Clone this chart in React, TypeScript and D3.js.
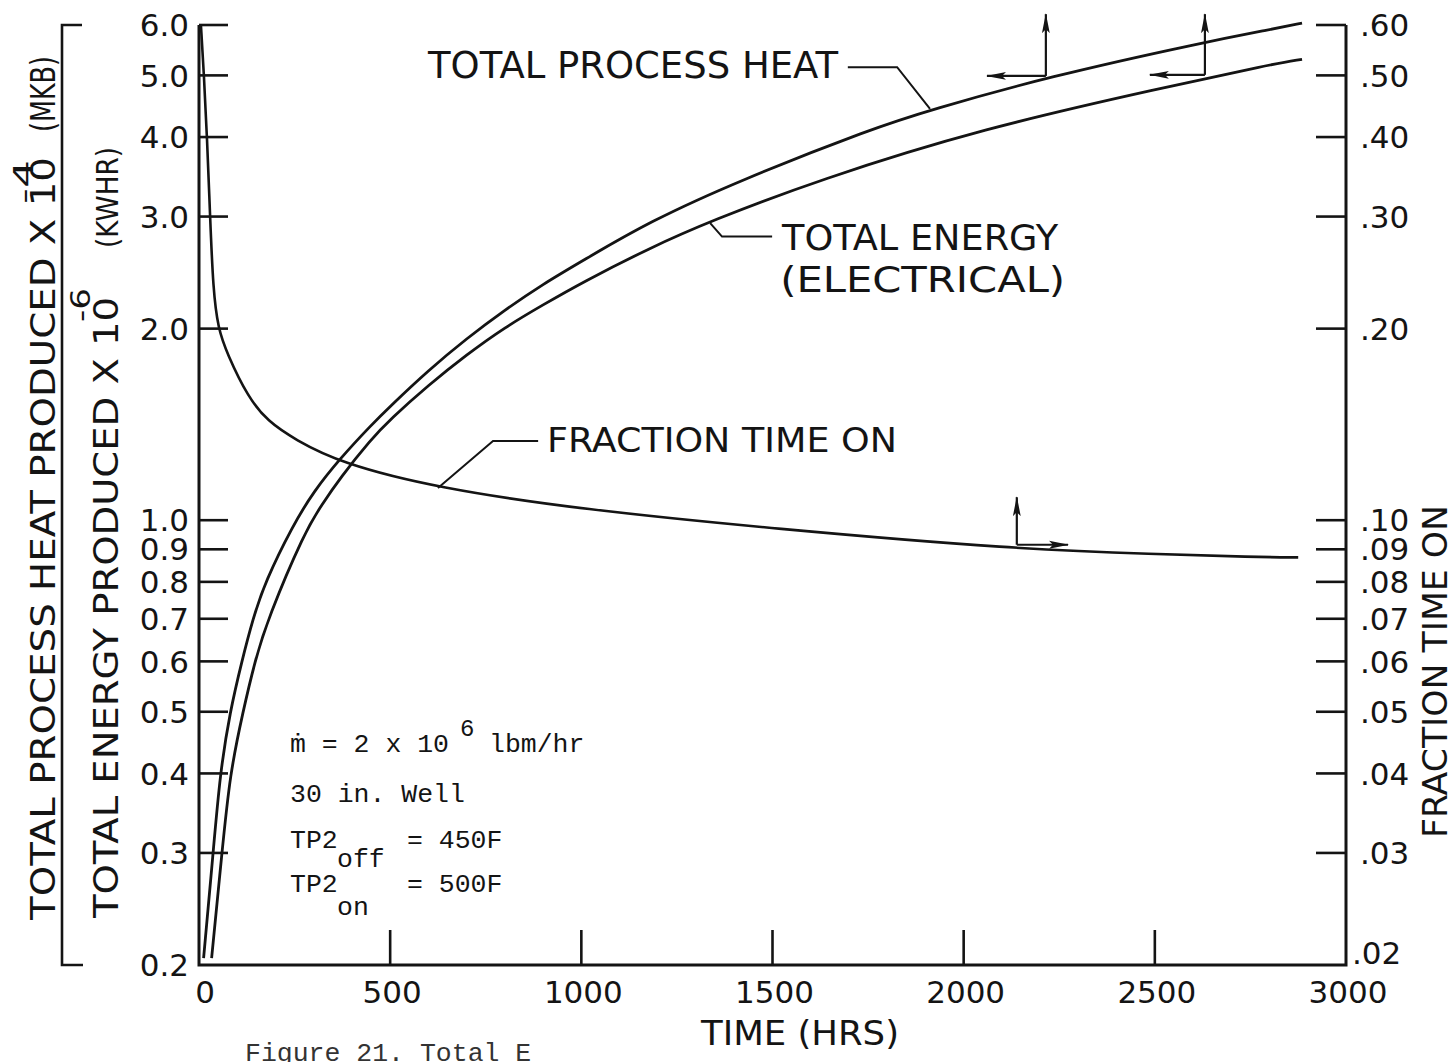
import React, { useEffect } from "react";
import * as d3 from "d3";

const W = 1455;
const H = 1062;
const ink = "#141414";

// Total process heat (x 10^-4 MKB), left scale
const heatHours = [12, 37, 55, 81, 112, 141, 173, 245, 300, 369, 450, 500, 600, 700, 800, 900, 1000, 1180, 1415, 1763, 1912, 2218, 2631, 2801, 2885];
const heatValues = [0.205, 0.3, 0.4, 0.5, 0.6, 0.7, 0.8, 0.98, 1.11, 1.25, 1.41, 1.51, 1.72, 1.93, 2.14, 2.35, 2.55, 2.95, 3.42, 4.13, 4.41, 4.97, 5.64, 5.9, 6.04];

// Total electrical energy (x 10^-6 KWHR), left scale
const energyHours = [33, 60, 81, 115, 146, 180, 277, 320, 369, 450, 500, 600, 700, 800, 900, 1000, 1180, 1337, 1617, 2051, 2521, 2801, 2885];
const energyValues = [0.205, 0.3, 0.4, 0.5, 0.6, 0.7, 0.96, 1.055, 1.165, 1.34, 1.44, 1.63, 1.82, 2.01, 2.18, 2.36, 2.68, 2.95, 3.42, 4.13, 4.78, 5.2, 5.3];

// Fraction of time the heater is on, right scale
const fractionHours = [5, 13, 21, 29, 37, 50, 73, 128, 180, 250, 369, 625, 1000, 1500, 2140, 2500, 2760, 2875];
const fractionValues = [0.6, 0.5, 0.4, 0.3, 0.23, 0.2, 0.183, 0.156, 0.143, 0.134, 0.123, 0.1123, 0.104, 0.097, 0.09, 0.0885, 0.0875, 0.0874];

const timeTicks = [0, 500, 1000, 1500, 2000, 2500, 3000];
const timeTickLabels = ["0", "500", "1000", "1500", "2000", "2500", "3000"];
const leftTicks = [0.2, 0.3, 0.4, 0.5, 0.6, 0.7, 0.8, 0.9, 1.0, 2.0, 3.0, 4.0, 5.0, 6.0];
const leftTickLabels = ["0.2", "0.3", "0.4", "0.5", "0.6", "0.7", "0.8", "0.9", "1.0", "2.0", "3.0", "4.0", "5.0", "6.0"];
const rightTicks = [0.02, 0.03, 0.04, 0.05, 0.06, 0.07, 0.08, 0.09, 0.1, 0.2, 0.3, 0.4, 0.5, 0.6];
const rightTickLabels = [".02", ".03", ".04", ".05", ".06", ".07", ".08", ".09", ".10", ".20", ".30", ".40", ".50", ".60"];

const sans = "'DejaVu Sans', 'Liberation Sans', sans-serif";
const mono = "'Liberation Mono', 'DejaVu Sans Mono', monospace";

export default function App() {
  useEffect(() => {
    document.body.style.margin = "0";
    document.body.style.background = "#fff";
  }, []);

  const x = d3.scaleLinear().domain([0, 3000]).range([199, 1346]);
  const yL = d3.scaleLog().domain([0.2, 6]).range([965, 25]);
  const yR = d3.scaleLog().domain([0.02, 0.6]).range([965, 25]);

  const lineL = d3
    .line<[number, number]>()
    .x((d) => x(d[0]))
    .y((d) => yL(d[1]))
    .curve(d3.curveBasis);
  const lineR = d3
    .line<[number, number]>()
    .x((d) => x(d[0]))
    .y((d) => yR(d[1]))
    .curve(d3.curveBasis);

  const heat = heatHours.map((t, i) => [t, heatValues[i]] as [number, number]);
  const energy = energyHours.map((t, i) => [t, energyValues[i]] as [number, number]);
  const fraction = fractionHours.map((t, i) => [t, fractionValues[i]] as [number, number]);

  const x0 = x(0);
  const x1 = x(3000);
  const yTop = yL(6);
  const yBot = yL(0.2);

  // axis-direction arrows (data units)
  const arrows = [
    { t: 2215, v: 4.99, up: 6.24, side: 2061, scale: yL },
    { t: 2631, v: 5.01, up: 6.24, side: 2487, scale: yL },
    { t: 2139, v: 0.0915, up: 0.1087, side: 2273, scale: yR },
  ];

  const stroke = { stroke: ink, fill: "none" };

  return (
    <svg width={W} height={H} viewBox={`0 0 ${W} ${H}`} style={{ display: "block", background: "#fff" }}>
      <defs>
        <marker id="head" viewBox="0 0 20 9" refX="19" refY="4.5" markerWidth="20" markerHeight="9" markerUnits="userSpaceOnUse" orient="auto">
          <path d="M0,0.6 L20,4.5 L0,8.4 L4,4.5 Z" fill={ink} />
        </marker>
      </defs>

      {/* axes frame */}
      <path d={`M${x0},${yTop} V${yBot} H${x1} V${yTop}`} {...stroke} strokeWidth={3} />
      <path d={`M82,${yTop} H62 V${yBot} H83`} {...stroke} strokeWidth={2.6} />

      {/* left ticks */}
      {leftTicks.slice(1).map((v) => (
        <line key={`lt${v}`} x1={x0} x2={x0 + 29} y1={yL(v)} y2={yL(v)} {...stroke} strokeWidth={2.6} />
      ))}
      {leftTicks.map((v, i) => (
        <text key={`ll${v}`} x={189} y={yL(v)} dy="0.36em" textAnchor="end" fontFamily={sans} fontSize={31} fill={ink}>
          {leftTickLabels[i]}
        </text>
      ))}

      {/* right ticks */}
      {rightTicks.slice(1).map((v) => (
        <line key={`rt${v}`} x1={x1 - 30} x2={x1} y1={yR(v)} y2={yR(v)} {...stroke} strokeWidth={2.6} />
      ))}
      {rightTicks.map((v, i) => (
        <text
          key={`rl${v}`}
          x={i === 0 ? x1 + 6 : x1 + 14}
          y={i === 0 ? yR(v) - 12 : yR(v)}
          dy="0.36em"
          textAnchor="start"
          fontFamily={sans}
          fontSize={31}
          fill={ink}
        >
          {rightTickLabels[i]}
        </text>
      ))}

      {/* bottom ticks */}
      {timeTicks.slice(1, -1).map((t) => (
        <line key={`bt${t}`} x1={x(t)} x2={x(t)} y1={yBot} y2={yBot - 35} {...stroke} strokeWidth={2.6} />
      ))}
      {timeTicks.map((t, i) => (
        <text key={`bl${t}`} x={x(t) + (i === 0 ? 6 : 2)} y={1003} textAnchor="middle" fontFamily={sans} fontSize={31} fill={ink}>
          {timeTickLabels[i]}
        </text>
      ))}

      {/* axis titles */}
      <text x={800} y={1045} textAnchor="middle" fontFamily={sans} fontSize={34} fill={ink} textLength={198} lengthAdjust="spacingAndGlyphs">
        TIME (HRS)
      </text>

      <g fontFamily={sans} fill={ink}>
        <text transform="translate(55,920) rotate(-90)" fontSize={33} textLength={763} lengthAdjust="spacingAndGlyphs">
          TOTAL PROCESS HEAT PRODUCED X 10
        </text>
        <text transform="translate(33,204) rotate(-90)" fontSize={26} textLength={44} lengthAdjust="spacingAndGlyphs">
          -4
        </text>
        <text transform="translate(55,132) rotate(-90)" fontSize={33} textLength={76} lengthAdjust="spacingAndGlyphs">
          (MKB)
        </text>

        <text transform="translate(118,918) rotate(-90)" fontSize={33} textLength={621} lengthAdjust="spacingAndGlyphs">
          TOTAL ENERGY PRODUCED X 10
        </text>
        <text transform="translate(90,322) rotate(-90)" fontSize={26} textLength={34} lengthAdjust="spacingAndGlyphs">
          -6
        </text>
        <text transform="translate(118,248) rotate(-90)" fontSize={30} textLength={101} lengthAdjust="spacingAndGlyphs">
          (KWHR)
        </text>

        <text transform="translate(1447,838) rotate(-90)" fontSize={34} textLength={333} lengthAdjust="spacingAndGlyphs">
          FRACTION TIME ON
        </text>
      </g>

      {/* curves */}
      <path d={lineL(heat) ?? ""} {...stroke} strokeWidth={2.8} strokeLinejoin="round" />
      <path d={lineL(energy) ?? ""} {...stroke} strokeWidth={2.8} strokeLinejoin="round" />
      <path d={lineR(fraction) ?? ""} {...stroke} strokeWidth={2.6} strokeLinejoin="round" />

      {/* curve labels and leaders */}
      <g fontFamily={sans} fill={ink}>
        <text x={x(599)} y={yL(4.95)} fontSize={38} textLength={410} lengthAdjust="spacingAndGlyphs">
          TOTAL PROCESS HEAT
        </text>
        <text x={x(1525)} y={yL(2.66)} fontSize={35} textLength={276} lengthAdjust="spacingAndGlyphs">
          TOTAL ENERGY
        </text>
        <text x={x(1520)} y={yL(2.28)} fontSize={35} textLength={285} lengthAdjust="spacingAndGlyphs">
          (ELECTRICAL)
        </text>
        <text x={x(910)} y={yR(0.128)} fontSize={34} textLength={350} lengthAdjust="spacingAndGlyphs">
          FRACTION TIME ON
        </text>
      </g>
      <path d={`M${x(1697)},${yL(5.15)} H${x(1826)} L${x(1912)},${yL(4.43)}`} {...stroke} strokeWidth={2} />
      <path d={`M${x(1499)},${yL(2.79)} H${x(1368)} L${x(1337)},${yL(2.93)}`} {...stroke} strokeWidth={2} />
      <path d={`M${x(887)},${yR(0.1332)} H${x(769)} L${x(625)},${yR(0.1124)}`} {...stroke} strokeWidth={2} />

      {/* arrows pointing to the scale each curve is read on */}
      {arrows.map((a, i) => (
        <g key={`ar${i}`}>
          <line x1={x(a.t)} y1={a.scale(a.v)} x2={x(a.t)} y2={a.scale(a.up)} {...stroke} strokeWidth={2.2} markerEnd="url(#head)" />
          <line x1={x(a.t)} y1={a.scale(a.v)} x2={x(a.side)} y2={a.scale(a.v)} {...stroke} strokeWidth={2.2} markerEnd="url(#head)" />
        </g>
      ))}

      {/* run conditions */}
      <g fontFamily={mono} fill={ink} fontSize={26.5}>
        <text x={290} y={752}>ṁ = 2 x 10</text>
        <text x={460} y={736} fontSize={24}>6</text>
        <text x={489} y={752}>lbm/hr</text>
        <text x={290} y={802}>30 in. Well</text>
        <text x={290} y={848}>TP2</text>
        <text x={337} y={867}>off</text>
        <text x={407} y={848}>= 450F</text>
        <text x={290} y={892}>TP2</text>
        <text x={337} y={915}>on</text>
        <text x={407} y={892}>= 500F</text>
        <text x={245} y={1061} fill="#333">Figure 21.  Total E</text>
      </g>
    </svg>
  );
}
